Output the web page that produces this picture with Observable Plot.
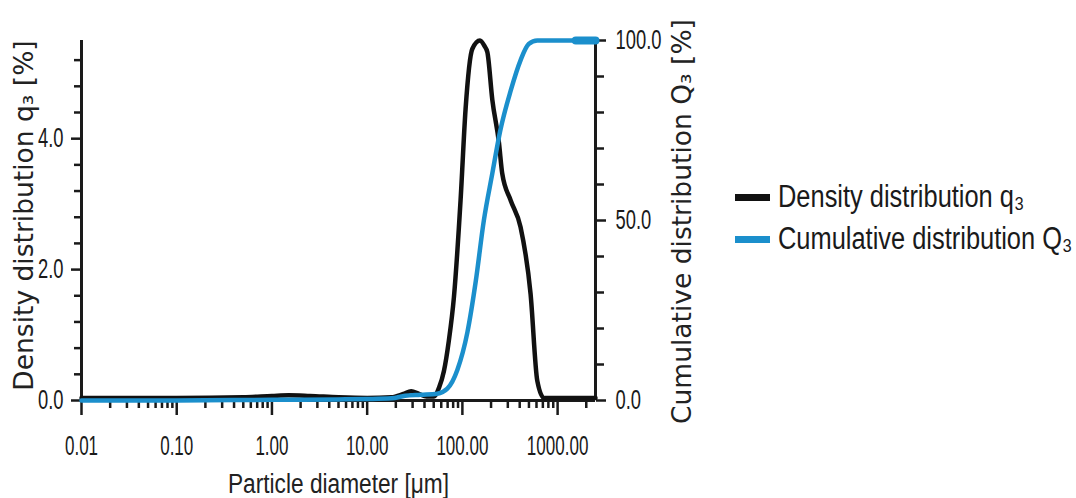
<!DOCTYPE html>
<html>
<head>
<meta charset="utf-8">
<script src="https://cdn.jsdelivr.net/npm/d3@7"></script>
<script src="https://cdn.jsdelivr.net/npm/@observablehq/plot@0.6"></script>
<style>
  html, body { margin: 0; padding: 0; background: #fff; }
  #wrap { position: relative; width: 1076px; height: 498px; }
  #legend { position: absolute; left: 735px; top: 176px; font-family: "Liberation Sans", Arial, sans-serif; font-size: 31px; color: #1a1a1a; }
  .item { display: flex; align-items: center; height: 42px; white-space: nowrap; }
  .sw { width: 35px; height: 7px; margin-right: 8px; flex: none; }
  .lt { display: inline-block; transform: scaleX(0.82); transform-origin: left center; }
</style>
</head>
<body>
<div id="wrap"></div>
<script>
// Density distribution q3 [%] vs particle diameter [µm]
const densDiam = [0.01, 0.1, 0.5, 1.0, 1.5, 2.5, 5, 10, 18, 24, 29, 35, 42, 50, 57, 64, 72, 81.5, 95.7, 108, 127, 153, 170, 183, 206, 242, 262, 321, 408, 520, 612, 718, 1500, 2500];
const densQ3   = [0.04, 0.04, 0.05, 0.07, 0.08, 0.07, 0.05, 0.04, 0.05, 0.1, 0.14, 0.1, 0.06, 0.06, 0.2, 0.45, 0.91, 1.58, 3.06, 4.45, 5.37, 5.5, 5.42, 5.32, 4.6, 3.94, 3.47, 3.06, 2.65, 1.63, 0.3, 0.04, 0.04, 0.04];

// Cumulative distribution Q3 [%]
const cumDiam = [0.01, 0.1, 1, 5, 10, 18, 25, 36.5, 54.5, 69.5, 88.5, 113, 138, 168, 206, 250, 321, 408, 497, 612, 1000, 1550, 2500];
const cumQ3   = [0, 0, 0.2, 0.3, 0.4, 0.6, 1.3, 1.6, 1.9, 3.3, 8.5, 19, 33, 50, 63, 75, 86, 94.5, 99, 100, 100, 100, 100];

// Axes
const xMajor = [0.01, 0.1, 1, 10, 100, 1000];
const xMajorLabels = ["0.01", "0.10", "1.00", "10.00", "100.00", "1000.00"];
const xMinor = [0.02,0.03,0.04,0.05,0.06,0.07,0.08,0.09, 0.2,0.3,0.4,0.5,0.6,0.7,0.8,0.9, 2,3,4,5,6,7,8,9, 20,30,40,50,60,70,80,90, 200,300,400,500,600,700,800,900, 2000];
const yLeftMajor = [0, 2, 4];
const yLeftMinor = [0.4, 0.8, 1.2, 1.6, 2.4, 2.8, 3.2, 3.6, 4.4, 4.8, 5.2];
const yRightMajor = [0, 50, 100];
const yRightMinor = [10, 20, 30, 40, 60, 70, 80, 90];
const yMax = 5.5;   // left axis top; right axis maps 0–100 onto 0–yMax
const xMax = 2500;

const toLeft = q => q * yMax / 100;
const dens = densDiam.map((d, i) => ({d, v: densQ3[i]}));
const cum = cumDiam.map((d, i) => ({d, v: toLeft(cumQ3[i])}));
const cumEnd = cum.slice(-2);

const sans = "'Liberation Sans', Arial, sans-serif";
const wide = "'DejaVu Sans', Verdana, sans-serif";
const blue = "#1b8fcc";
const ink = "#1a1a1a";

const chart = Plot.plot({
  width: 1076, height: 498,
  marginLeft: 81, marginRight: 481, marginTop: 40, marginBottom: 98,
  style: {fontFamily: sans, color: ink, background: "#fff"},
  x: {type: "log", domain: [0.01, xMax]},
  y: {domain: [0, yMax]},
  marks: [
    // x axis
    Plot.axisX({ticks: xMajor, tickFormat: d => xMajorLabels[xMajor.indexOf(d)], tickSize: 15, tickPadding: 20, strokeWidth: 2.5, fontSize: 27, label: null}),
    Plot.axisX({ticks: xMinor, tickFormat: () => "", tickSize: 8, strokeWidth: 2.5, label: null}),
    // left axis
    Plot.axisY({anchor: "left", ticks: yLeftMajor, tickFormat: d => d.toFixed(1), tickSize: 10, tickPadding: 8, strokeWidth: 2.5, fontSize: 27, label: null}),
    Plot.axisY({anchor: "left", ticks: yLeftMinor, tickFormat: () => "", tickSize: 7, strokeWidth: 2.5, label: null}),
    // right axis (cumulative, 0-100 %)
    Plot.axisY({anchor: "right", ticks: yRightMajor.map(toLeft), tickFormat: d => (d / yMax * 100).toFixed(1), tickSize: 10, tickPadding: 10, strokeWidth: 2.5, fontSize: 27, label: null}),
    Plot.axisY({anchor: "right", ticks: yRightMinor.map(toLeft), tickFormat: () => "", tickSize: 8, strokeWidth: 2.5, label: null}),
    // axis lines
    Plot.ruleX([0.01], {y1: 0, y2: yMax, stroke: ink, strokeWidth: 3}),
    Plot.ruleX([xMax], {y1: 0, y2: yMax, stroke: ink, strokeWidth: 3}),
    Plot.ruleY([0], {stroke: ink, strokeWidth: 3}),
    // data
    Plot.line(dens, {x: "d", y: "v", stroke: "#111", strokeWidth: 4.5, curve: "monotone-x"}),
    Plot.line(cum, {x: "d", y: "v", stroke: blue, strokeWidth: 4.5, curve: "monotone-x"}),
    Plot.line(cumEnd, {x: "d", y: "v", stroke: blue, strokeWidth: 8}),
    // axis titles
    Plot.text(["Density distribution q₃ [%]"], {frameAnchor: "left", dx: -57, dy: -5, rotate: -90, textAnchor: "middle", lineAnchor: "middle", fontSize: 26.5, fontFamily: wide, fill: "#222"}),
    Plot.text(["Cumulative distribution Q₃ [%]"], {frameAnchor: "right", dx: 87, dy: 1, rotate: -90, textAnchor: "middle", lineAnchor: "middle", fontSize: 26.5, fontFamily: wide, fill: "#222"}),
    Plot.text(["Particle diameter [μm]"], {frameAnchor: "bottom", dy: 84, textAnchor: "middle", lineAnchor: "middle", fontSize: 27, fill: "#222"})
  ]
});

const wrap = document.getElementById("wrap");
wrap.appendChild(chart);

// condense the narrow-font texts horizontally (reference uses a condensed face)
function squeeze(t, s, size) {
  if (size) t.style.fontSize = size + "px";
  const len = t.getComputedTextLength();
  if (len > 0) {
    t.setAttribute("textLength", (len * s).toFixed(2));
    t.setAttribute("lengthAdjust", "spacingAndGlyphs");
  }
}
chart.querySelectorAll("text").forEach(t => {
  const s = t.textContent;
  const g = t.closest("g[aria-label]");
  const role = g ? g.getAttribute("aria-label") : "";
  if (/^[\d.]+$/.test(s)) squeeze(t, role.startsWith("y") ? 0.68 : 0.63, 27);
  else if (s.startsWith("Particle")) squeeze(t, 0.84, 27);
});

const legendItems = [
  {label: "Density distribution q₃", color: "#111"},
  {label: "Cumulative distribution Q₃", color: blue}
];
const legend = document.createElement("div");
legend.id = "legend";
for (const it of legendItems) {
  const row = document.createElement("div");
  row.className = "item";
  const sw = document.createElement("span");
  sw.className = "sw";
  sw.style.background = it.color;
  const tx = document.createElement("span");
  tx.className = "lt";
  tx.textContent = it.label;
  row.appendChild(sw);
  row.appendChild(tx);
  legend.appendChild(row);
}
wrap.appendChild(legend);
</script>
</body>
</html>
